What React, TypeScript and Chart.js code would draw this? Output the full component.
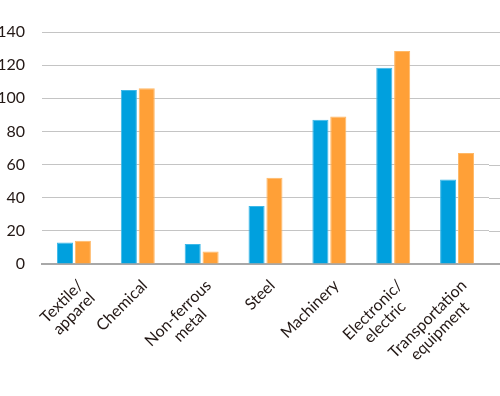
import React, { useEffect, useRef } from "react";
import { Chart, registerables } from "chart.js";

Chart.register(...registerables);

const categories: string[][] = [
  ["Textile/", "apparel"],
  ["Chemical"],
  ["Non-ferrous", "metal"],
  ["Steel"],
  ["Machinery"],
  ["Electronic/", "electric"],
  ["Transportation", "equipment"],
];
const seriesA = [13, 105, 12, 35, 87, 118.5, 51];
const seriesB = [14, 106, 7.5, 52, 89, 128.5, 67];
const yTicks = [0, 20, 40, 60, 80, 100, 120, 140];

const FONT = "16px Lato";
const TEXT_COLOR = "#231815";

const labelPlugin = {
  id: "centeredRotatedLabels",
  beforeDatasetsDraw(chart: any) {
    const { ctx, chartArea, scales } = chart;
    const y = scales.y;
    ctx.save();
    ctx.strokeStyle = "#C4C4C4";
    ctx.lineWidth = 1;
    for (const v of yTicks) {
      if (v === 0) continue;
      const py = Math.round(y.getPixelForValue(v)) + 0.5;
      ctx.beginPath();
      ctx.moveTo(chartArea.right, py);
      ctx.lineTo(chart.width, py);
      ctx.stroke();
    }
    ctx.restore();
  },
  afterDraw(chart: any) {
    const { ctx, chartArea, scales } = chart;
    const x = scales.x;
    ctx.save();
    ctx.strokeStyle = "#A8A8A8";
    ctx.lineWidth = 2;
    ctx.beginPath();
    ctx.moveTo(chartArea.right, chartArea.bottom);
    ctx.lineTo(chart.width, chartArea.bottom);
    ctx.stroke();

    ctx.font = FONT;
    ctx.fillStyle = TEXT_COLOR;
    ctx.textAlign = "center";
    ctx.textBaseline = "alphabetic";
    const LH = 17;
    categories.forEach((lines, i) => {
      const cx = x.getPixelForValue(i);
      const W = Math.max(...lines.map((l) => ctx.measureText(l).width));
      ctx.save();
      ctx.translate(cx + 2, chartArea.bottom + 14);
      ctx.rotate(-Math.PI / 4);
      lines.forEach((l, j) => {
        ctx.fillText(l, -W / 2, 12 + j * LH);
      });
      ctx.restore();
    });
    ctx.restore();
  },
};

export default function App() {
  const ref = useRef<HTMLCanvasElement>(null);
  useEffect(() => {
    document.body.style.margin = "0";
    const ctx = ref.current!;
    const chart = new Chart(ctx, {
      type: "bar",
      data: {
        labels: categories.map((c) => c.join(" ")),
        datasets: [
          {
            label: "A",
            data: seriesA,
            backgroundColor: "#00A0DE",
            borderColor: "#3DB8E8",
            borderWidth: 1,
            barPercentage: 0.9,
            categoryPercentage: 0.56,
          },
          {
            label: "B",
            data: seriesB,
            backgroundColor: "#FFA037",
            borderColor: "#FFB866",
            borderWidth: 1,
            barPercentage: 0.9,
            categoryPercentage: 0.56,
          },
        ],
      },
      plugins: [labelPlugin],
      options: {
        responsive: false,
        animation: false,
        layout: { padding: { top: 32, right: 11, bottom: 0, left: 0 } },
        plugins: { legend: { display: false }, tooltip: { enabled: false } },
        scales: {
          x: {
            grid: { display: false, drawTicks: false },
            border: { display: true, color: "#A8A8A8", width: 2 },
            ticks: { display: false },
            afterFit: (axis: any) => {
              axis.height = 132;
            },
          },
          y: {
            min: 0,
            max: 140,
            afterBuildTicks: (axis: any) => {
              axis.ticks = yTicks.map((v) => ({ value: v }));
            },
            grid: { color: "#C4C4C4", lineWidth: 1, drawTicks: false },
            border: { display: false },
            ticks: {
              color: TEXT_COLOR,
              font: { family: "Lato", size: 16 },
              padding: 17,
            },
            afterFit: (axis: any) => {
              axis.width = 42;
            },
          },
        },
      },
    });
    return () => chart.destroy();
  }, []);
  return <canvas ref={ref} width={500} height={396} />;
}
